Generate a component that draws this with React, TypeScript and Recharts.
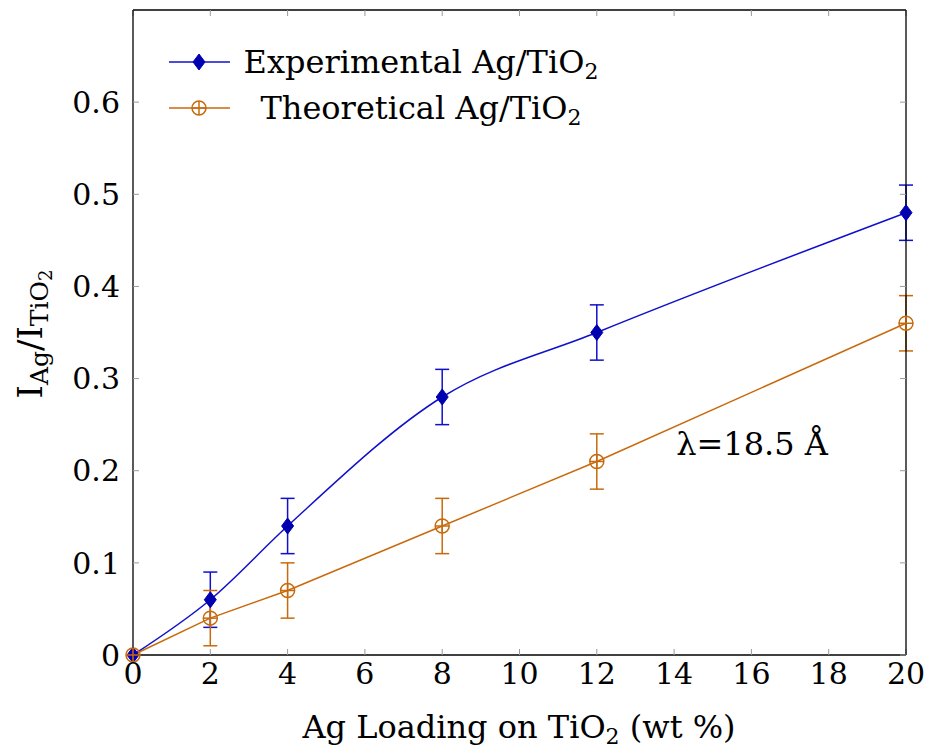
import { ErrorBar, Line, LineChart, XAxis, YAxis } from "recharts";

const loadings = [0, 2, 4, 8, 12, 20];
const experimental = [0, 0.06, 0.14, 0.28, 0.35, 0.48];
const experimentalErr = [0, 0.03, 0.03, 0.03, 0.03, 0.03];
const theoretical = [0, 0.04, 0.07, 0.14, 0.21, 0.36];
const theoreticalErr = [0, 0.03, 0.03, 0.03, 0.03, 0.03];

const xTicks = [0, 2, 4, 6, 8, 10, 12, 14, 16, 18, 20];
const yTicks = [0, 0.1, 0.2, 0.3, 0.4, 0.5, 0.6];

const BLUE = "#1010cc";
const BLUE_MARK = "#0000b0";
const ORANGE = "#c86a0c";
const FONT = "DejaVu Serif";

const data = loadings.map((x, i) => ({
  x,
  exp: experimental[i],
  expErr: experimentalErr[i],
  theo: theoretical[i],
  theoErr: theoreticalErr[i],
}));

function Diamond({ cx, cy }: { cx: number; cy: number }) {
  return (
    <polygon
      points={`${cx},${cy - 8} ${cx + 6},${cy} ${cx},${cy + 8} ${cx - 6},${cy}`}
      fill={BLUE_MARK}
      stroke={BLUE_MARK}
    />
  );
}

function OPlus({ cx, cy }: { cx: number; cy: number }) {
  return (
    <g stroke={ORANGE} strokeWidth={1.5} fill="none">
      <circle cx={cx} cy={cy} r={7} />
      <line x1={cx - 7} y1={cy} x2={cx + 7} y2={cy} />
      <line x1={cx} y1={cy - 7} x2={cx} y2={cy + 7} />
    </g>
  );
}

const tickStyle = { fontSize: 30, fill: "#000", fontFamily: FONT };
const axisLine = { stroke: "#000", strokeWidth: 1.3 };
const tickLine = { stroke: "#9a9a9a" };
const fmt = (v: number) => (v === 0 ? "0" : String(v));

export default function App() {
  return (
    <div style={{ position: "absolute", left: 0, top: 0, width: 927, height: 750 }}>
      <LineChart
        width={927}
        height={750}
        data={data}
        margin={{ top: 9, right: 20, left: 0, bottom: 0 }}
        style={{ fontFamily: FONT }}
      >
        <XAxis
          dataKey="x"
          type="number"
          domain={[0, 20]}
          ticks={xTicks}
          height={95}
          tickSize={-6}
          tickMargin={14}
          tick={tickStyle}
          axisLine={axisLine}
          tickLine={tickLine}
        />
        <XAxis
          xAxisId="top"
          orientation="top"
          dataKey="x"
          type="number"
          domain={[0, 20]}
          ticks={xTicks}
          height={1}
          tickSize={-6}
          tickMargin={0}
          tickFormatter={() => ""}
          axisLine={axisLine}
          tickLine={tickLine}
        />
        <YAxis
          type="number"
          domain={[0, 0.7]}
          ticks={yTicks}
          width={133}
          tickSize={-6}
          tickMargin={19}
          tickFormatter={fmt}
          tick={tickStyle}
          axisLine={axisLine}
          tickLine={tickLine}
        />
        <YAxis
          yAxisId="right"
          orientation="right"
          type="number"
          domain={[0, 0.7]}
          ticks={yTicks}
          width={1}
          tickSize={-6}
          tickMargin={0}
          tickFormatter={() => ""}
          axisLine={axisLine}
          tickLine={tickLine}
        />
        <Line
          dataKey="exp"
          type="monotone"
          stroke={BLUE}
          strokeWidth={1.5}
          isAnimationActive={false}
          dot={(p: any) => <Diamond key={`d${p.index}`} cx={p.cx} cy={p.cy} />}
        >
          <ErrorBar dataKey="expErr" direction="y" width={7} stroke={BLUE} strokeWidth={1.5} isAnimationActive={false} />
        </Line>
        <Line
          dataKey="theo"
          xAxisId="top"
          yAxisId="right"
          type="linear"
          stroke={ORANGE}
          strokeWidth={1.5}
          isAnimationActive={false}
          dot={(p: any) => <OPlus key={`o${p.index}`} cx={p.cx} cy={p.cy} />}
        >
          <ErrorBar dataKey="theoErr" direction="y" width={7} stroke={ORANGE} strokeWidth={1.5} isAnimationActive={false} />
        </Line>
      </LineChart>
      <svg
        width={927}
        height={750}
        style={{ position: "absolute", left: 0, top: 0, pointerEvents: "none" }}
        fontFamily={FONT}
      >
        <g>
          <line x1={169} y1={62} x2={230} y2={62} stroke={BLUE} strokeWidth={1.5} />
          <Diamond cx={199} cy={62} />
          <text x={421} y={73} fontSize={32} textAnchor="middle">
            Experimental Ag/TiO<tspan fontSize={22} dy={6}>2</tspan>
          </text>
          <line x1={169} y1={108} x2={230} y2={108} stroke={ORANGE} strokeWidth={1.5} />
          <OPlus cx={199} cy={108} />
          <text x={421} y={119} fontSize={32} textAnchor="middle">
            Theoretical Ag/TiO<tspan fontSize={22} dy={6}>2</tspan>
          </text>
        </g>
        <text x={752} y={455} fontSize={32} textAnchor="middle">
          λ=18.5 Å
        </text>
        <text x={519} y={738} fontSize={32} textAnchor="middle">
          Ag Loading on TiO<tspan fontSize={22} dy={6}>2</tspan>
          <tspan dy={-6}> (wt %)</tspan>
        </text>
        <text x={0} y={0} fontSize={34} textAnchor="middle" transform="translate(42,334) rotate(-90)">
          I<tspan fontSize={25} dy={6}>Ag</tspan>
          <tspan dy={-6}>/I</tspan>
          <tspan fontSize={25} dy={6}>TiO</tspan>
          <tspan fontSize={18} dy={4}>2</tspan>
        </text>
      </svg>
    </div>
  );
}
